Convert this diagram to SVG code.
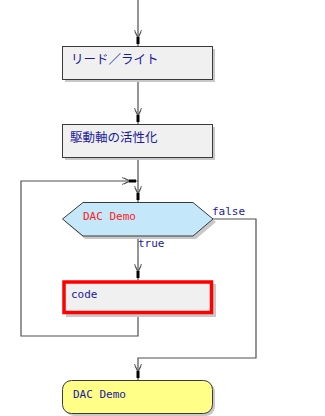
<svg xmlns="http://www.w3.org/2000/svg" width="325" height="416" viewBox="0 0 325 416">
<style>
.shadow{fill:#c8c8c8;stroke:none}
.box{fill:#f0f0f0;stroke:#3a3a3a;stroke-width:1}
.hex{fill:#c4e8fa;stroke:#3a3a3a;stroke-width:1}
.term{fill:#ffff88;stroke:#3a3a3a;stroke-width:1}
.code{fill:#f0f0f0;stroke:#ff0000;stroke-width:3.5}
.jp{font-family:"Noto Sans CJK JP","Noto Sans CJK SC",sans-serif;font-size:12.5px;fill:#1a1a9c}
.mono{font-family:"DejaVu Sans Mono","Liberation Mono",monospace;font-size:11px;fill:#1a1a9c}
.red{fill:#ff2020}
.conn{fill:none;stroke:#505050;stroke-width:1.2}
</style>
<defs>
<marker id="arr" markerUnits="userSpaceOnUse" markerWidth="20" markerHeight="12" viewBox="-18 -6 20 12" refX="0" refY="0" orient="auto">
<path d="M-16,-3.5 L-8,0 L-16,3.5 M-14,-3 L-8,0 L-14,3" fill="none" stroke="#505050" stroke-width="0.9"/>
<rect x="-9" y="-1.5" width="7" height="3" fill="#000"/>
</marker>
</defs>
<rect width="325" height="416" fill="#ffffff"/>
<g id="connectors">
<path class="conn" d="M138,0 V46" marker-end="url(#arr)"/>
<path class="conn" d="M138,79 V124" marker-end="url(#arr)"/>
<path class="conn" d="M138,157 V202" marker-end="url(#arr)"/>
<path class="conn" d="M138,236 V280" marker-end="url(#arr)"/>
<path class="conn" d="M138,314 V336 H21 V181 H138" marker-end="url(#arr)"/>
<path class="conn" d="M213,219 H256 V358 H138 V380" marker-end="url(#arr)"/>
</g>
<g id="node-readwrite">
<rect class="shadow" x="65" y="49" width="150" height="33"/>
<rect class="box" x="62.5" y="46.5" width="150" height="33"/>
<text class="jp" x="71" y="64">リード／ライト</text>
</g>
<g id="node-activate">
<rect class="shadow" x="65" y="127" width="150" height="33"/>
<rect class="box" x="62.5" y="124.5" width="150" height="33"/>
<text class="jp" x="70" y="142">駆動軸の活性化</text>
</g>
<g id="node-loop">
<polygon class="shadow" points="85,205 196,205 216,222 196,239 85,239 65,222"/>
<polygon class="hex" points="83,202.5 193,202.5 213,219 193,236 83,236 62.5,219"/>
<text class="mono red" x="83" y="219.5">DAC Demo</text>
<text class="mono" x="212" y="215">false</text>
<text class="mono" x="138" y="246.5">true</text>
</g>
<g id="node-code">
<rect class="shadow" x="66" y="284" width="150" height="33"/>
<rect class="code" x="64" y="282" width="147.5" height="30.5"/>
<text class="mono" x="71" y="297.5">code</text>
</g>
<g id="node-end">
<rect class="shadow" x="65" y="383" width="150" height="33" rx="9"/>
<rect class="term" x="62.5" y="380.5" width="150" height="33" rx="9"/>
<text class="mono" x="73" y="397.5">DAC Demo</text>
</g>
</svg>
